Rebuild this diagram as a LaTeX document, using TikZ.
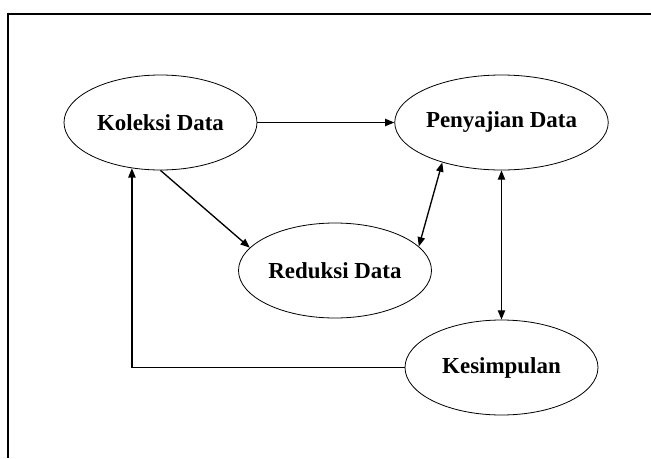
\documentclass[tikz,border=0pt]{standalone}
\usepackage{fontspec}
\setmainfont{Liberation Serif}
\usepackage{tikz}
\usetikzlibrary{arrows.meta,shapes.geometric,positioning}
\tikzstyle{stage} = [draw, ellipse, line width=0.6pt, minimum width=144.75pt, minimum height=71.25pt, inner sep=0pt, font=\fontsize{17.2}{20}\selectfont\bfseries]
\tikzstyle{arrow} = [line width=1pt, -{Triangle[length=7pt,width=5.5pt]}]
\tikzstyle{twoway} = [line width=1pt, {Triangle[length=7pt,width=5.5pt]}-{Triangle[length=7pt,width=5.5pt]}]

\begin{document}
\begin{tikzpicture}[x=0.75pt, y=-0.75pt]
\useasboundingbox (0,0) rectangle (651,458);
% Frame
\draw[line width=1.1pt] (8,458) -- (8,14) -- (651,14);

% Stages
\node[stage] (koleksi) at (160.5,122.5) {Koleksi Data};
\node[stage] (penyajian) at (501.5,122.5) {Penyajian Data};
\node[stage] (reduksi) at (335,270.5) {Reduksi Data};
\node[stage] (kesimpulan) at (501.5,367.5) {Kesimpulan};

% Flows
\draw[arrow] (koleksi) -- (penyajian);
\draw[arrow] (koleksi.south) -- (reduksi.165);
\draw[twoway] (reduksi.16) -- (penyajian.214);
\draw[twoway] (penyajian.south) -- (kesimpulan.north);
\draw[arrow] (kesimpulan.west) -| (koleksi.238);
\end{tikzpicture}
\end{document}
